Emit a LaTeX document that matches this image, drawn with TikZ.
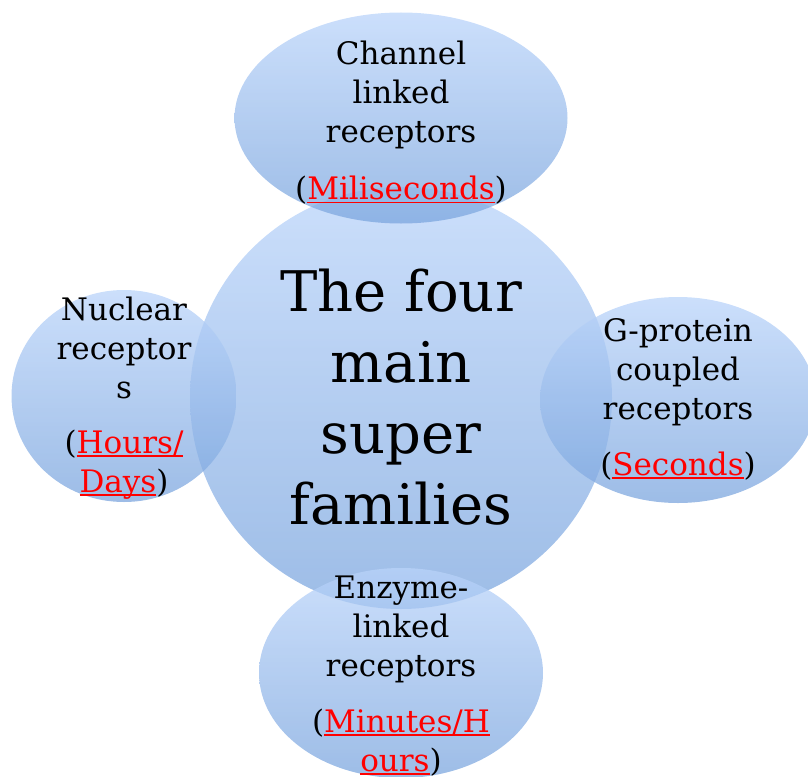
\documentclass[tikz,border=0pt]{standalone}
\usepackage{fontspec}
\setmainfont{DejaVu Serif}
\usetikzlibrary{shapes.geometric}
\definecolor{bubtop}{RGB}{186,212,250}
\definecolor{bubbot}{RGB}{124,166,222}
\definecolor{timered}{RGB}{255,0,0}
\newsavebox{\timebox}
\newcommand{\timeword}[1]{\textcolor{timered}{\sbox{\timebox}{#1}\rlap{\rule[-3.5pt]{\wd\timebox}{1.5pt}}\usebox{\timebox}}}

\begin{document}
\begin{tikzpicture}[line cap=round,line join=round,x=1pt,y=-1pt,
  bubble/.style={ellipse,draw=none,top color=bubtop,bottom color=bubbot,fill opacity=0.75,inner sep=0pt},
  small/.style={align=center,inner sep=0pt,font=\fontsize{31}{39}\selectfont,text=black},
  big/.style={align=center,inner sep=0pt,font=\fontsize{56}{71}\selectfont,text=black}]
\useasboundingbox (0,0) rectangle (808,776);
\clip (0,0) rectangle (808,776);
% bubbles
\node[bubble,circle,minimum size=422pt] (core) at (401,398) {};
\node[bubble,minimum width=333pt,minimum height=211pt] (chan) at (401,118) {};
\node[bubble,minimum width=225pt,minimum height=212pt] (nucl) at (124,396) {};
\node[bubble,minimum width=276pt,minimum height=206pt] (gprot) at (678,400) {};
\node[bubble,minimum width=284pt,minimum height=210pt] (enzy) at (401,673) {};
% texts
\node[big] (coretxt) at (401,397) {The four\\main\\super\\families};
\node[small] (chantxt) at (401,123) {Channel\\linked\\receptors\\[18pt](\timeword{Miliseconds})};
\node[small] (nucltxt) at (124,398) {Nuclear\\receptor\\s\\[16pt](\timeword{Hours/}\\\timeword{Days})};
\node[small] (gprottxt) at (678,399) {G-protein\\coupled\\receptors\\[17pt](\timeword{Seconds})};
\node[small] (enzytxt) at (401,676) {Enzyme-\\linked\\receptors\\[17pt](\timeword{Minutes/H}\\\timeword{ours})};
\end{tikzpicture}
\end{document}
